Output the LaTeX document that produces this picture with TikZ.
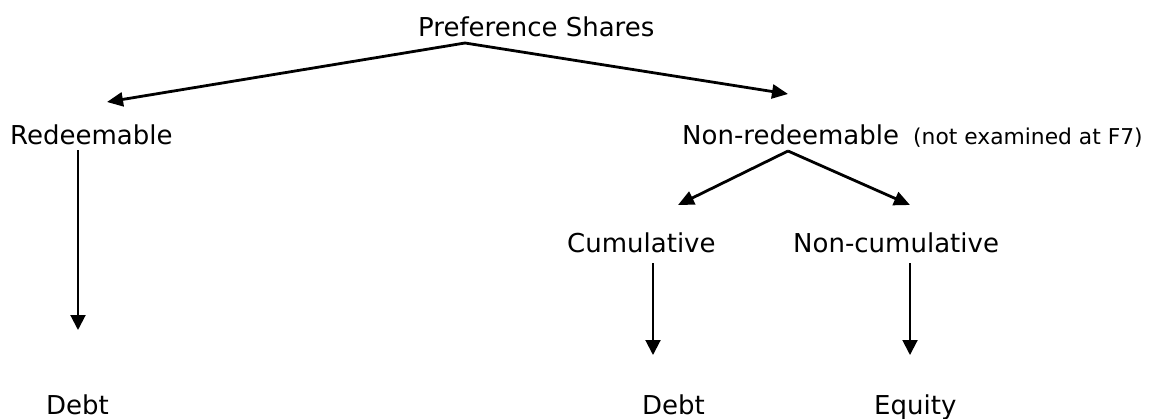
\documentclass[tikz,border=0pt]{standalone}
\usepackage{fontspec}
\setmainfont{DejaVu Sans}
\usetikzlibrary{arrows.meta}
\begin{document}
\begin{tikzpicture}[x=1pt,y=-1pt,
  lbl/.style={inner sep=0pt, anchor=base west, font=\fontsize{26}{30}\selectfont},
  note/.style={inner sep=0pt, anchor=base west, font=\fontsize{21.8}{26}\selectfont},
  thick arr/.style={-{Triangle[length=16pt,width=14pt]}, line width=2.8pt},
  thin arr/.style={-{Triangle[length=15pt,width=15pt]}, line width=2pt}]
\useasboundingbox (0,0) rectangle (1155,418);

% labels
\node[lbl] (pref)   at (418,36)  {Preference Shares};
\node[lbl] (redeem) at (10,144)  {Redeemable};
\node[lbl] (nonred) at (682,144) {Non-redeemable};
\node[note] (nonredNote) at (913,144) {(not examined at F7)};
\node[lbl] (cum)    at (567,252) {Cumulative};
\node[lbl] (noncum) at (793,252) {Non-cumulative};
\node[lbl] (debtA)  at (46,414)  {Debt};
\node[lbl] (debtB)  at (642,414) {Debt};
\node[lbl] (equity) at (874,414) {Equity};

% connector end points
\coordinate (pref-out)   at (465,43);
\coordinate (redeem-in)  at (107,102);
\coordinate (nonred-in)  at (788,94);
\coordinate (nonred-out) at (788,151);
\coordinate (cum-in)     at (678,205);
\coordinate (noncum-in)  at (910,205);
\coordinate (redeem-out) at (78,150);
\coordinate (debtA-in)   at (78,330);
\coordinate (cum-out)    at (653,263);
\coordinate (debtB-in)   at (653,355);
\coordinate (noncum-out) at (910,263);
\coordinate (equity-in)  at (910,355);

% connectors
\draw[thick arr] (pref-out) -- (redeem-in);
\draw[thick arr] (pref-out) -- (nonred-in);
\draw[thick arr] (nonred-out) -- (cum-in);
\draw[thick arr] (nonred-out) -- (noncum-in);
\draw[thin arr] (redeem-out) -- (debtA-in);
\draw[thin arr] (cum-out) -- (debtB-in);
\draw[thin arr] (noncum-out) -- (equity-in);
\end{tikzpicture}
\end{document}
